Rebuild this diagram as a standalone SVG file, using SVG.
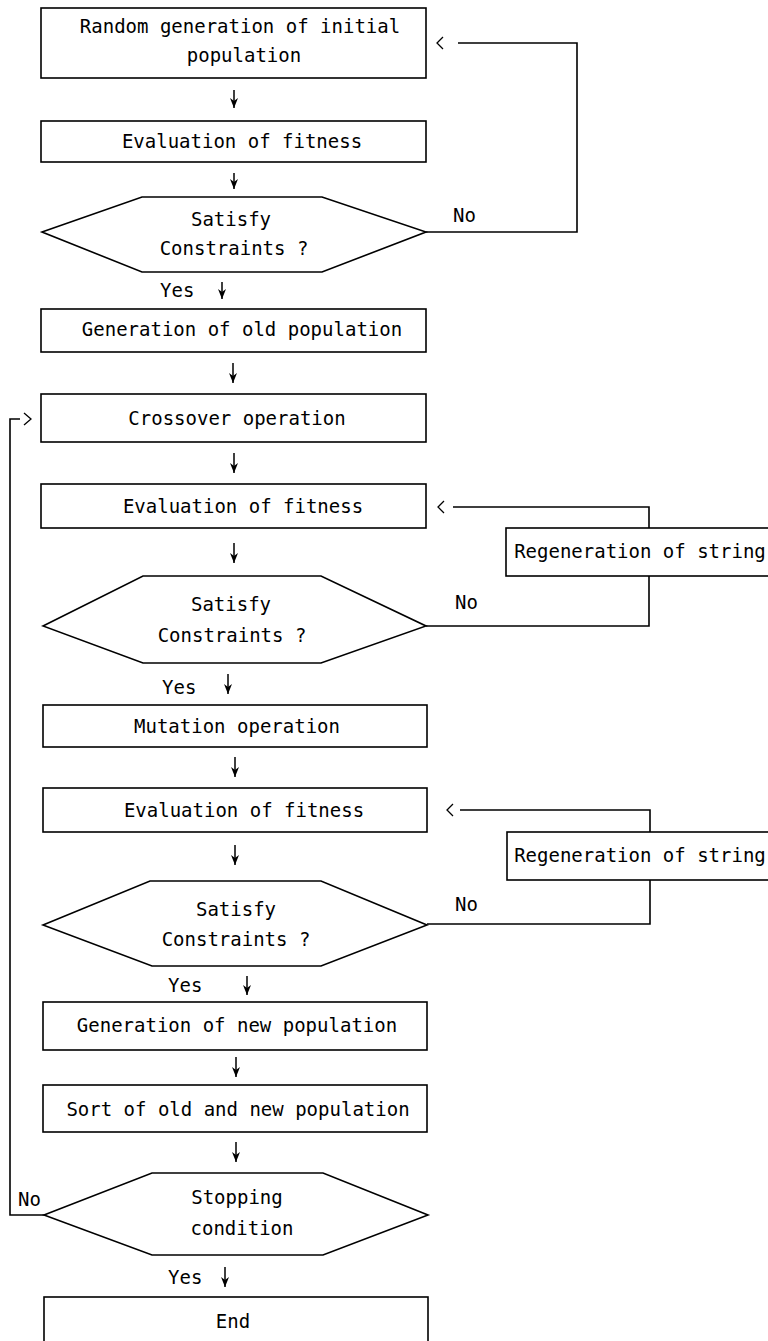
<svg xmlns="http://www.w3.org/2000/svg" width="768" height="1341" viewBox="0 0 768 1341">
<style>
.n{fill:#fff;stroke:#000;stroke-width:1.6}
.t{font-family:"DejaVu Sans Mono","Liberation Mono",monospace;font-size:19px;fill:#000;text-anchor:middle}
.l{font-family:"DejaVu Sans Mono","Liberation Mono",monospace;font-size:19px;fill:#000}
.c{fill:none;stroke:#000;stroke-width:1.6}
.a{fill:none;stroke:#000;stroke-width:1.5}
.v{fill:none;stroke:#000;stroke-width:1.3}
</style>
<defs>
<marker id="ah" viewBox="0 0 10 8" refX="10" refY="4" markerWidth="10" markerHeight="8" markerUnits="userSpaceOnUse" orient="auto">
<path d="M0,0 L10,4 L0,8 L3,4 Z" fill="#000"/>
</marker>
</defs>
<rect width="768" height="1341" fill="#fff"/>
<g id="connectors">
<path class="c" d="M426,232 H577 V43 H458"/>
<path class="v" d="M443,37 L437,43 L443,49"/>
<path class="c" d="M426,626 H649 V576 M649,528 V507 H453"/>
<path class="v" d="M444,501 L438,507 L444,513"/>
<path class="c" d="M427,924 H650 V880 M650,832 V810 H460"/>
<path class="v" d="M453,804 L447,810 L453,816"/>
<path class="c" d="M44,1215 H10 V419 H20"/>
<path class="v" d="M24,413 L31,419 L24,425"/>
<line class="a" x1="234" y1="90" x2="234" y2="108" marker-end="url(#ah)"/>
<line class="a" x1="234" y1="173" x2="234" y2="189" marker-end="url(#ah)"/>
<line class="a" x1="222" y1="282" x2="222" y2="299" marker-end="url(#ah)"/>
<line class="a" x1="233" y1="363" x2="233" y2="383" marker-end="url(#ah)"/>
<line class="a" x1="234" y1="453" x2="234" y2="473" marker-end="url(#ah)"/>
<line class="a" x1="234" y1="543" x2="234" y2="563" marker-end="url(#ah)"/>
<line class="a" x1="228" y1="674" x2="228" y2="694" marker-end="url(#ah)"/>
<line class="a" x1="235" y1="757" x2="235" y2="777" marker-end="url(#ah)"/>
<line class="a" x1="235" y1="845" x2="235" y2="865" marker-end="url(#ah)"/>
<line class="a" x1="247" y1="976" x2="247" y2="995" marker-end="url(#ah)"/>
<line class="a" x1="236" y1="1057" x2="236" y2="1077" marker-end="url(#ah)"/>
<line class="a" x1="236" y1="1142" x2="236" y2="1162" marker-end="url(#ah)"/>
<line class="a" x1="225" y1="1267" x2="225" y2="1287" marker-end="url(#ah)"/>
</g>
<g id="n1"><rect class="n" x="41" y="8" width="385" height="70"/>
<text class="t" x="240" y="33">Random generation of initial</text>
<text class="t" x="244" y="62">population</text></g>
<g id="n2"><rect class="n" x="41" y="121" width="385" height="41"/>
<text class="t" x="242" y="148">Evaluation of fitness</text></g>
<g id="d1"><polygon class="n" points="42,232 142,197 322,197 426,232 322,272 142,272"/>
<text class="t" x="231" y="226">Satisfy</text>
<text class="t" x="234" y="255">Constraints ?</text></g>
<g id="lbl1"><text class="l" x="453" y="222">No</text>
<text class="l" x="160" y="297">Yes</text></g>
<g id="n3"><rect class="n" x="41" y="309" width="385" height="43"/>
<text class="t" x="242" y="336">Generation of old population</text></g>
<g id="n4"><rect class="n" x="41" y="394" width="385" height="48"/>
<text class="t" x="237" y="425">Crossover operation</text></g>
<g id="n5"><rect class="n" x="41" y="484" width="385" height="44"/>
<text class="t" x="243" y="513">Evaluation of fitness</text></g>
<g id="r1"><rect class="n" x="506" y="528" width="270" height="48"/>
<text class="t" x="640" y="558">Regeneration of string</text></g>
<g id="d2"><polygon class="n" points="43,626 143,576 321,576 426,626 321,663 143,663"/>
<text class="t" x="231" y="611">Satisfy</text>
<text class="t" x="232" y="642">Constraints ?</text></g>
<g id="lbl2"><text class="l" x="455" y="609">No</text>
<text class="l" x="162" y="694">Yes</text></g>
<g id="n6"><rect class="n" x="43" y="705" width="384" height="42"/>
<text class="t" x="237" y="733">Mutation operation</text></g>
<g id="n7"><rect class="n" x="43" y="788" width="384" height="44"/>
<text class="t" x="244" y="817">Evaluation of fitness</text></g>
<g id="r2"><rect class="n" x="507" y="832" width="270" height="48"/>
<text class="t" x="640" y="862">Regeneration of string</text></g>
<g id="d3"><polygon class="n" points="43,925 150,881 321,881 427,925 321,966 152,966"/>
<text class="t" x="236" y="916">Satisfy</text>
<text class="t" x="236" y="946">Constraints ?</text></g>
<g id="lbl3"><text class="l" x="455" y="911">No</text>
<text class="l" x="168" y="992">Yes</text></g>
<g id="n8"><rect class="n" x="43" y="1002" width="384" height="48"/>
<text class="t" x="237" y="1032">Generation of new population</text></g>
<g id="n9"><rect class="n" x="43" y="1085" width="384" height="47"/>
<text class="t" x="238" y="1116">Sort of old and new population</text></g>
<g id="d4"><polygon class="n" points="44,1215 152,1173 323,1173 428,1215 323,1255 152,1255"/>
<text class="t" x="237" y="1204">Stopping</text>
<text class="t" x="242" y="1235">condition</text></g>
<g id="lbl4"><text class="l" x="18" y="1206">No</text>
<text class="l" x="168" y="1284">Yes</text></g>
<g id="end"><rect class="n" x="44" y="1297" width="384" height="50"/>
<text class="t" x="233" y="1328">End</text></g>
</svg>
